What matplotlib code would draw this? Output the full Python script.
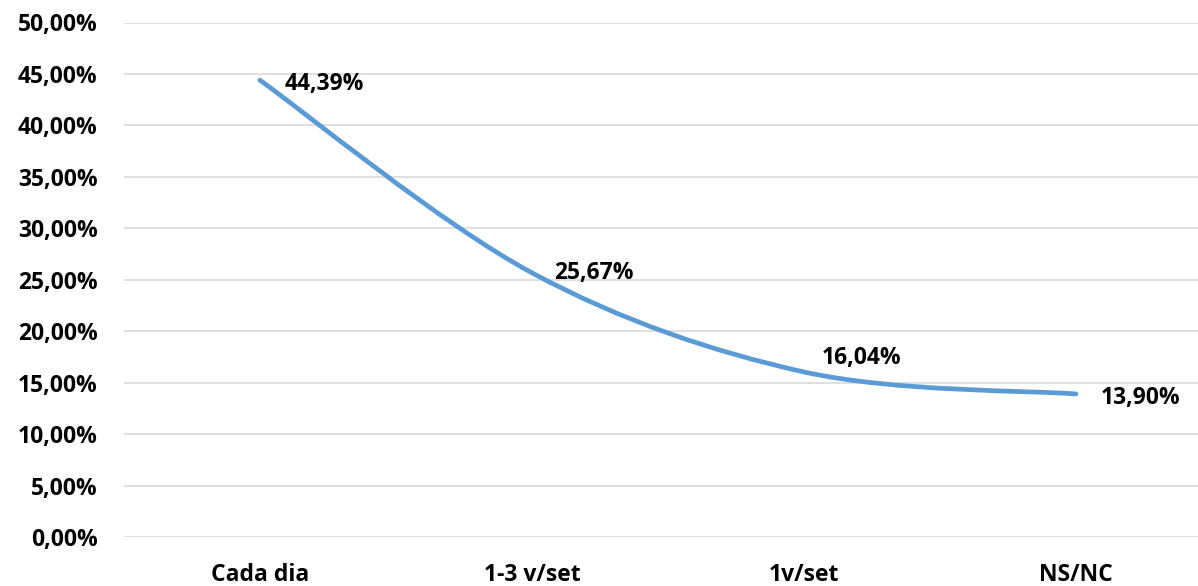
import matplotlib
matplotlib.use("Agg")
import matplotlib.pyplot as plt
from matplotlib.path import Path
from matplotlib.patches import PathPatch
from matplotlib.ticker import FuncFormatter
import numpy as np

categories = ["Cada dia", "1-3 v/set", "1v/set", "NS/NC"]
values = [44.39, 25.67, 16.04, 13.90]
value_labels = ["44,39%", "25,67%", "16,04%", "13,90%"]
y_ticks = [0, 5, 10, 15, 20, 25, 30, 35, 40, 45, 50]

LINE = "#5B9BD5"
GRID = "#D9D9D9"
FONT = "Open Sans"
FS = 16.5

plt.rcParams["font.family"] = [FONT, "DejaVu Sans"]
plt.rcParams["font.weight"] = "bold"

fig = plt.figure(figsize=(11.98, 5.86), dpi=100)
ax = fig.add_axes([124 / 1198, 49 / 586, 1088 / 1198, 514.5 / 586])

x = np.arange(len(values))
y = np.array(values, dtype=float)

# Excel-style smoothed line: Catmull-Rom segments as cubic Beziers
pts = np.column_stack([x, y])
ext = np.vstack([pts[0], pts, pts[-1]])
verts = [tuple(pts[0])]
codes = [Path.MOVETO]
for i in range(len(pts) - 1):
    p0, p1, p2, p3 = ext[i], ext[i + 1], ext[i + 2], ext[i + 3]
    c1 = p1 + (p2 - p0) / 6.0
    c2 = p2 - (p3 - p1) / 6.0
    verts += [tuple(c1), tuple(c2), tuple(p2)]
    codes += [Path.CURVE4] * 3
ax.add_patch(PathPatch(Path(verts, codes), fill=False, edgecolor=LINE,
                       linewidth=3.4, capstyle="round", joinstyle="round", zorder=3))

# data labels to the right of each point
offsets = [(18, -3), (16, 0), (13, 10), (18, -3)]
for xi, yi, lab, off in zip(x, y, value_labels, offsets):
    ax.annotate(lab, (xi, yi), xytext=off, textcoords="offset points",
                ha="left", va="center", fontsize=FS, fontweight="bold", color="black")

ax.set_xlim(-0.5, 3.5)
ax.set_ylim(0, 50)
ax.set_yticks(y_ticks)
ax.yaxis.set_major_formatter(FuncFormatter(lambda v, p: f"{v:.2f}%".replace(".", ",")))
ax.set_xticks(x)
ax.set_xticklabels(categories)
ax.tick_params(axis="y", length=0, pad=19, labelsize=FS)
ax.tick_params(axis="x", length=0, pad=19, labelsize=FS)
for t in ax.get_xticklabels() + ax.get_yticklabels():
    t.set_fontweight("bold")

ax.grid(axis="y", color=GRID, linewidth=1.2)
ax.set_axisbelow(True)
for s in ax.spines.values():
    s.set_visible(False)

fig.savefig("out.png", dpi=100)
